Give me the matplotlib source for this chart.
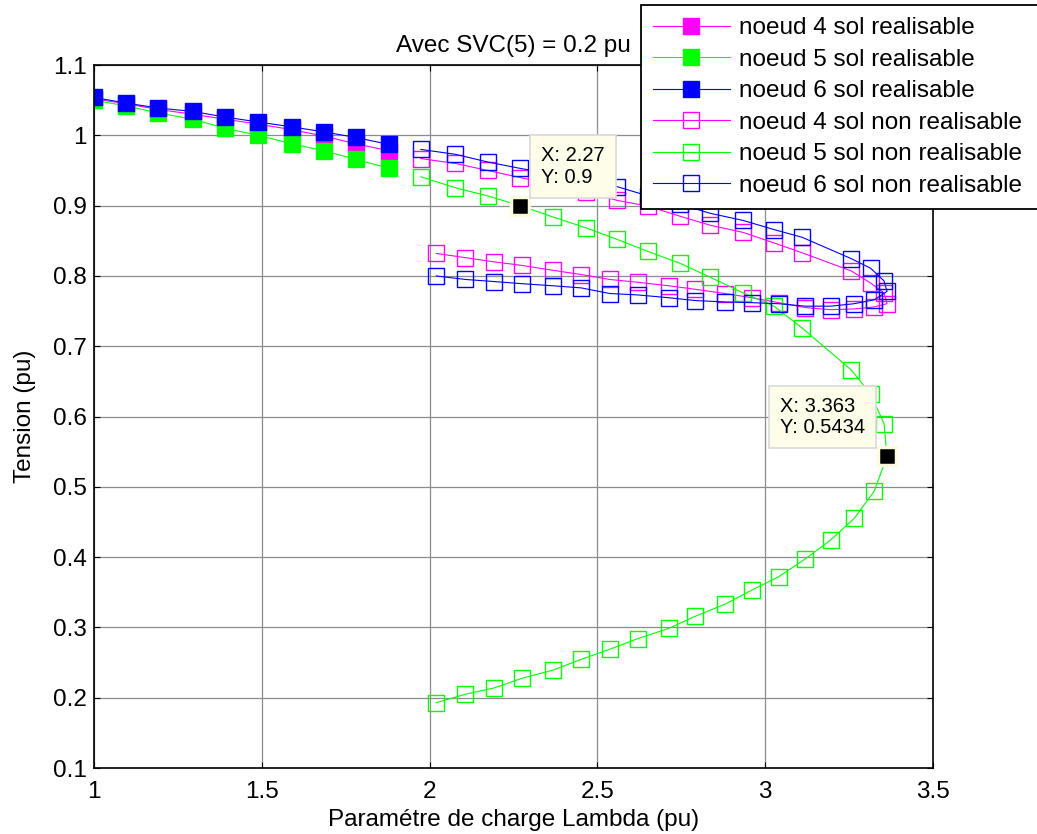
import matplotlib
matplotlib.use('Agg')
import matplotlib.pyplot as plt
from matplotlib.ticker import FuncFormatter

plt.rcParams['font.family'] = ['Liberation Sans', 'DejaVu Sans']

# branche realisable (lambda de 1 a ~1.88)
lam_real = [1.0, 1.095, 1.19, 1.295, 1.39, 1.49, 1.59, 1.685, 1.78, 1.88]
v4_real = [1.052, 1.045, 1.037, 1.030, 1.023, 1.016, 1.008, 0.999, 0.988, 0.978]
v5_real = [1.050, 1.042, 1.032, 1.023, 1.010, 1.000, 0.988, 0.978, 0.966, 0.953]
v6_real = [1.054, 1.046, 1.039, 1.034, 1.026, 1.019, 1.012, 1.005, 0.997, 0.987]

# branche non realisable : partie haute -> nez -> partie basse
lam_nr = [1.974, 2.077, 2.174, 2.27, 2.367, 2.465, 2.559, 2.65, 2.746, 2.837,
          2.934, 3.026, 3.11, 3.257, 3.314, 3.354, 3.363, 3.325, 3.265, 3.195,
          3.12, 3.04, 2.96, 2.88, 2.792, 2.713, 2.62, 2.537, 2.452, 2.368,
          2.275, 2.193, 2.107, 2.02]
v4_nr = [0.967, 0.960, 0.950, 0.940, 0.930, 0.920, 0.9075, 0.8994, 0.885, 0.872,
         0.862, 0.847, 0.833, 0.807, 0.790, 0.776, 0.7605, 0.756, 0.753, 0.752,
         0.755, 0.762, 0.769, 0.775, 0.781, 0.786, 0.791, 0.795, 0.802, 0.808,
         0.815, 0.820, 0.826, 0.832]
v5_nr = [0.941, 0.9255, 0.9137, 0.900, 0.884, 0.8686, 0.852, 0.835, 0.818, 0.798,
         0.776, 0.757, 0.726, 0.666, 0.632, 0.590, 0.5434, 0.494, 0.455, 0.4244,
         0.3977, 0.372, 0.353, 0.333, 0.316, 0.2987, 0.284, 0.269, 0.2546, 0.2394,
         0.2276, 0.214, 0.205, 0.193]
v6_nr = [0.980, 0.973, 0.962, 0.953, 0.945, 0.937, 0.927, 0.914, 0.902, 0.889,
         0.879, 0.866, 0.855, 0.8245, 0.811, 0.793, 0.778, 0.766, 0.7605, 0.757,
         0.757, 0.7605, 0.762, 0.763, 0.765, 0.769, 0.773, 0.775, 0.783, 0.786,
         0.789, 0.792, 0.795, 0.800]

# points marques (data cursor) sur le noeud 5 : indice dans lam_nr / v5_nr
tip_idx = [3, 16]

labels = ['noeud 4 sol realisable', 'noeud 5 sol realisable', 'noeud 6 sol realisable',
          'noeud 4 sol non realisable', 'noeud 5 sol non realisable', 'noeud 6 sol non realisable']
colors = ['#ff00ff', '#00ff00', '#0000ff']

fs = 17.5
fig = plt.figure(figsize=(10.37, 8.34), dpi=100)
ax = fig.add_axes([0.0906, 0.0791, 0.8091, 0.8429])

for v, c, lab in zip([v4_real, v5_real, v6_real], colors, labels[:3]):
    ax.plot(lam_real, v, '-s', color=c, mfc=c, mec=c, ms=11, lw=0.8, label=lab)
for v, c, lab in zip([v4_nr, v5_nr, v6_nr], colors, labels[3:]):
    ax.plot(lam_nr, v, '-s', color=c, mfc='none', mec=c, ms=11, mew=1.0, lw=0.8, label=lab)

ax.set_xlim(1, 3.5)
ax.set_ylim(0.1, 1.1)
ax.set_xticks([1, 1.5, 2, 2.5, 3, 3.5])
ax.set_yticks([0.1, 0.2, 0.3, 0.4, 0.5, 0.6, 0.7, 0.8, 0.9, 1.0, 1.1])
fmt = FuncFormatter(lambda v, p: '%g' % round(v, 3))
ax.xaxis.set_major_formatter(fmt)
ax.yaxis.set_major_formatter(fmt)
ax.grid(True, color='#8c8c8c', lw=0.9)
ax.set_axisbelow(True)
ax.tick_params(direction='in', length=4, labelsize=fs, top=True, right=True,
               labeltop=False, labelright=False)
ax.tick_params(axis='x', pad=9)
ax.tick_params(axis='y', pad=5)
for s in ax.spines.values():
    s.set_linewidth(1.2)

ax.set_xlabel('Paramétre de charge Lambda (pu)', fontsize=fs, labelpad=5)
ax.set_ylabel('Tension (pu)', fontsize=fs, labelpad=12)
ax.set_title('Avec SVC(5) = 0.2 pu', fontsize=fs, pad=9.5)

# data cursors
for i in tip_idx:
    x, y = lam_nr[i], v5_nr[i]
    ax.plot(x, y, 's', ms=13.5, mfc='black', mec='#fbfbe0', mew=2.5, zorder=6)
    txt = 'X: %g\nY: %g' % (x, y)
    if x < 3:
        off, ha = (21, 19), 'left'
    else:
        off, ha = (-22, 19), 'right'
    ax.annotate(txt, xy=(x, y), xytext=off, textcoords='offset pixels',
                ha=ha, va='bottom', multialignment='left', fontsize=14.5,
                linespacing=1.15, zorder=7,
                bbox=dict(boxstyle='square,pad=0.55', fc='#fdfdea', ec='#d9d9d9', lw=1.2))

# legende qui deborde a droite de la figure
x0, y1 = 641 / 1037, 1 - 5 / 834
leg = fig.legend(loc='upper left', bbox_to_anchor=(x0, y1 - 0.3, 1.04 - x0, 0.3),
                 mode='expand', borderaxespad=0, fontsize=fs, handlelength=3.15,
                 handletextpad=0.4, labelspacing=0.39, borderpad=0.5,
                 fancybox=False, framealpha=1)
leg.get_frame().set_edgecolor('black')
leg.get_frame().set_linewidth(1.3)

fig.savefig('out.png', dpi=100)
